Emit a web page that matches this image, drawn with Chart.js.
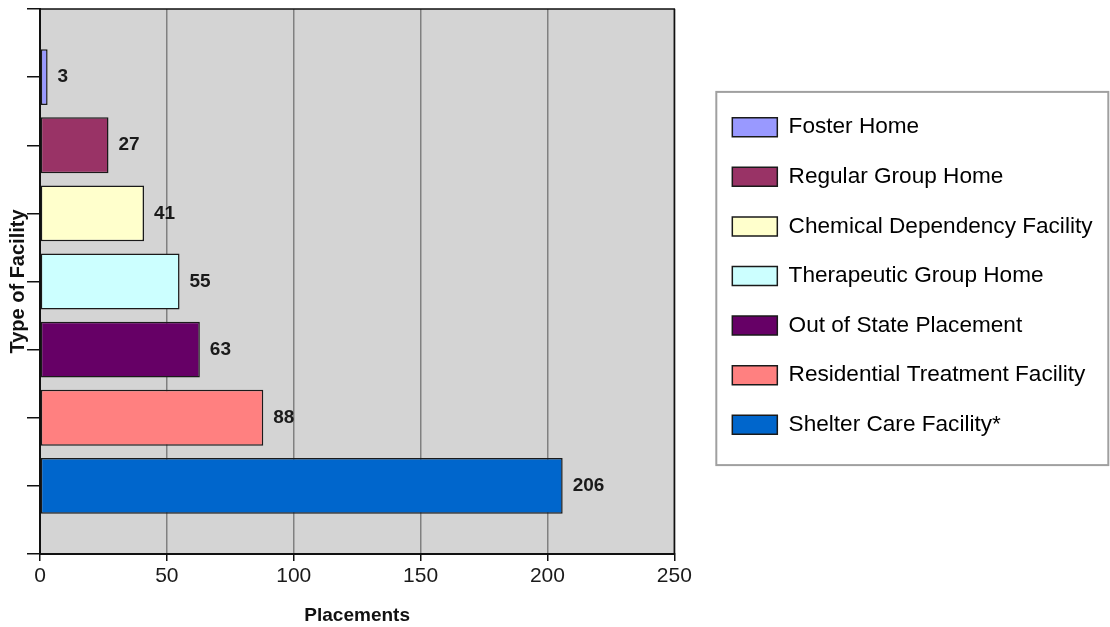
<!DOCTYPE html>
<html>
<head>
<meta charset="utf-8">
<script src="https://cdn.jsdelivr.net/npm/chart.js@4"></script>
<style>
  html, body { margin: 0; padding: 0; background: #ffffff; }
  #wrap { width: 1110px; height: 627px; }
</style>
</head>
<body>
<div id="wrap"><canvas id="c" width="1110" height="627"></canvas></div>
<script>
const categories = [
  "Foster Home",
  "Regular Group Home",
  "Chemical Dependency Facility",
  "Therapeutic Group Home",
  "Out of State Placement",
  "Residential Treatment Facility",
  "Shelter Care Facility*"
];
const placements = [3, 27, 41, 55, 63, 88, 206];
const barColors = ["#9999FF", "#993366", "#FFFFCC", "#CCFFFF", "#660066", "#FF8080", "#0066CC"];
const xTicks = [0, 50, 100, 150, 200, 250];

// Empty slots at both ends so the axis has ticks at its edges like the original
const axisLabels = [""].concat(categories, [""]);
const axisValues = [null].concat(placements, [null]);

const FONT = "'Liberation Sans', Arial, sans-serif";

const plotBackground = {
  id: 'plotBackground',
  beforeDraw(chart) {
    const {ctx, chartArea: a} = chart;
    ctx.save();
    ctx.fillStyle = '#d4d4d4';
    ctx.fillRect(a.left, a.top, a.right - a.left, a.bottom - a.top);
    ctx.restore();
  },
  afterDraw(chart) {
    const {ctx, chartArea: a} = chart;
    ctx.save();
    ctx.strokeStyle = '#111';
    ctx.lineWidth = 1.5;
    ctx.strokeRect(a.left, a.top, a.right - a.left, a.bottom - a.top);
    ctx.restore();
  }
};

const valueLabels = {
  id: 'valueLabels',
  afterDatasetsDraw(chart) {
    const {ctx} = chart;
    const meta = chart.getDatasetMeta(0);
    ctx.save();
    ctx.font = "bold 19px " + FONT;
    ctx.fillStyle = '#1a1a1a';
    ctx.textBaseline = 'middle';
    ctx.textAlign = 'left';
    meta.data.forEach((bar, i) => {
      const v = chart.data.datasets[0].data[i];
      if (v === null || v === undefined) return;
      ctx.fillText(String(v), bar.x + 10, bar.y);
    });
    ctx.restore();
  }
};

const legendFrame = {
  id: 'legendFrame',
  afterLayout(chart) {
    const lg = chart.legend;
    if (lg) {
      lg.left += 31; lg.right += 31;
      lg.top -= 42; lg.bottom -= 42;
    }
  },
  afterDraw(chart) {
    const lg = chart.legend;
    if (!lg || !lg.legendHitBoxes || !lg.legendHitBoxes.length) return;
    const hb = lg.legendHitBoxes;
    const first = hb[0], last = hb[hb.length - 1];
    const x0 = first.left - 16;
    const y0 = first.top - 24;
    const x1 = x0 + 392;
    const y1 = last.top + last.height + 29;
    const {ctx} = chart;
    ctx.save();
    ctx.strokeStyle = '#a0a0a0';
    ctx.lineWidth = 2;
    ctx.strokeRect(x0, y0, x1 - x0, y1 - y0);
    ctx.restore();
  }
};

new Chart(document.getElementById('c'), {
  type: 'bar',
  data: {
    labels: axisLabels,
    datasets: [{
      label: 'Placements',
      data: axisValues,
      backgroundColor: [null].concat(barColors, [null]),
      borderColor: '#1a1a1a',
      borderWidth: 1.5,
      borderSkipped: false,
      categoryPercentage: 1.0,
      barPercentage: 0.82
    }]
  },
  options: {
    indexAxis: 'y',
    responsive: false,
    animation: false,
    devicePixelRatio: 1,
    layout: { padding: { left: 0, top: 9, right: 38.5, bottom: 0 } },
    scales: {
      x: {
        type: 'linear',
        min: 0,
        max: 250,
        afterBuildTicks(scale) { scale.ticks = xTicks.map(v => ({value: v})); },
        grid: { color: '#808080', lineWidth: 1.5, tickColor: '#111', tickLength: 7, drawTicks: true },
        border: { display: true, color: '#111', width: 2 },
        ticks: { color: '#1a1a1a', font: { family: FONT, size: 21 }, padding: 3 },
        title: { display: true, text: 'Placements', color: '#111', font: { family: FONT, size: 19, weight: 'bold' }, padding: { top: 12, bottom: 0 } }
      },
      y: {
        type: 'category',
        offset: false,
        grid: { offset: false, drawOnChartArea: false, color: '#111', tickColor: '#111', tickLength: 13, lineWidth: 1.5 },
        border: { display: true, color: '#111', width: 2 },
        ticks: { display: true, callback: () => '', padding: 0 },
        title: { display: true, text: 'Type of Facility', color: '#111', font: { family: FONT, size: 20, weight: 'bold', lineHeight: 0.9 }, padding: { top: 9, bottom: 0 } }
      }
    },
    plugins: {
      legend: {
        position: 'right',
        maxWidth: 420,
        onClick: null,
        labels: {
          boxWidth: 45,
          boxHeight: 19,
          padding: 27,
          color: '#1a1a1a',
          font: { family: FONT, size: 22.6 },
          generateLabels(chart) {
            return categories.map((c, i) => ({
              text: c,
              fillStyle: barColors[i],
              strokeStyle: '#1a1a1a',
              lineWidth: 1.5,
              hidden: false,
              index: i + 1,
              datasetIndex: 0
            }));
          }
        }
      },
      tooltip: { enabled: false }
    }
  },
  plugins: [plotBackground, valueLabels, legendFrame]
});
</script>
</body>
</html>
